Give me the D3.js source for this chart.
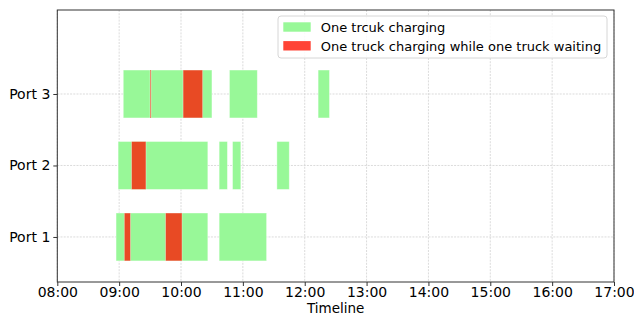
<!DOCTYPE html>
<html>
<head>
<meta charset="utf-8">
<script src="https://cdn.jsdelivr.net/npm/d3@7"></script>
<style>
  html, body { margin: 0; padding: 0; background: #fff; }
  svg { display: block; font-family: "DejaVu Sans", sans-serif; }
</style>
</head>
<body>
<svg id="chart" width="634" height="316"></svg>
<script>
// ---- data ----
const ports = ["Port 1", "Port 2", "Port 3"];
const portValues = [1, 2, 3];
const chargingPort1 = [["08:57", "10:26"], ["10:37", "11:23"]];
const waitingPort1 = [["09:05", "09:11"], ["09:45", "10:01"]];
const chargingPort2 = [["08:59", "10:26"], ["10:37", "10:45"], ["10:50", "10:58"], ["11:33", "11:45"]];
const waitingPort2 = [["09:12", "09:26"]];
const chargingPort3 = [["09:04", "10:30"], ["10:47", "11:14"], ["12:13", "12:24"]];
const waitingPort3 = [["09:30", "09:31"], ["10:02", "10:21"]];
const timeDomain = ["08:00", "17:00"];
const legendLabels = ["One trcuk charging", "One truck charging while one truck waiting"];
const xLabel = "Timeline";

const chargingByPort = [chargingPort1, chargingPort2, chargingPort3];
const waitingByPort = [waitingPort1, waitingPort2, waitingPort3];

// ---- setup ----
const parse = d3.timeParse("%H:%M");
const green = "#98f898";
const redBar = "#e84a24";
const redLegend = "#ff4436";

const svg = d3.select("#chart");
const pL = 57.3, pR = 614, pT = 10, pB = 282;

const x = d3.scaleTime()
  .domain(timeDomain.map(parse))
  .range([pL, pR]);
const y = d3.scaleLinear()
  .domain([0.37, 4.175])
  .range([pB, pT]);
const barH = 0.67;

// grid
const g = svg.append("g");
const hourTicks = x.ticks(d3.timeHour.every(1));
g.selectAll("line.vgrid").data(hourTicks).join("line")
  .attr("class", "vgrid")
  .attr("x1", d => x(d)).attr("x2", d => x(d))
  .attr("y1", pT).attr("y2", pB)
  .attr("stroke", "#d2d2d2").attr("stroke-width", 0.8)
  .attr("stroke-dasharray", "2,1.2");
g.selectAll("line.hgrid").data(portValues).join("line")
  .attr("class", "hgrid")
  .attr("x1", pL).attr("x2", pR)
  .attr("y1", d => y(d)).attr("y2", d => y(d))
  .attr("stroke", "#d2d2d2").attr("stroke-width", 0.8)
  .attr("stroke-dasharray", "2,1.2");

// bars
function drawBars(list, color) {
  list.forEach((intervals, i) => {
    const pv = portValues[i];
    svg.append("g").selectAll("rect").data(intervals).join("rect")
      .attr("x", d => x(parse(d[0])))
      .attr("width", d => x(parse(d[1])) - x(parse(d[0])))
      .attr("y", y(pv + barH / 2))
      .attr("height", y(pv - barH / 2) - y(pv + barH / 2))
      .attr("fill", color)
      .attr("stroke", "#ffffff").attr("stroke-opacity", 0.45).attr("stroke-width", 0.8);
  });
}
drawBars(chargingByPort, green);
drawBars(waitingByPort, redBar);

// axes
const xAxis = d3.axisBottom(x)
  .tickValues(hourTicks)
  .tickFormat(d3.timeFormat("%H:%M"))
  .tickSize(4).tickPadding(1);
const xg = svg.append("g").attr("transform", `translate(0,${pB})`).call(xAxis);
xg.select(".domain").remove();
xg.selectAll("text").attr("font-size", 14).attr("font-family", "DejaVu Sans").attr("fill", "#000");
xg.selectAll("line").attr("stroke", "#333");

const yAxis = d3.axisLeft(y)
  .tickValues(portValues)
  .tickFormat((d, i) => ports[i])
  .tickSize(4).tickPadding(3);
const yg = svg.append("g").attr("transform", `translate(${pL},0)`).call(yAxis);
yg.select(".domain").remove();
yg.selectAll("text").attr("font-size", 14).attr("font-family", "DejaVu Sans").attr("fill", "#000");
yg.selectAll("line").attr("stroke", "#333");

// frame
svg.append("rect")
  .attr("x", pL).attr("y", pT)
  .attr("width", pR - pL).attr("height", pB - pT)
  .attr("fill", "none").attr("stroke", "#333").attr("stroke-width", 1);

// x label
svg.append("text")
  .attr("x", (pL + pR) / 2).attr("y", 313)
  .attr("text-anchor", "middle")
  .attr("font-size", 13.5).attr("fill", "#000")
  .text(xLabel);

// legend
const lg = svg.append("g");
lg.append("rect")
  .attr("x", 278).attr("y", 16).attr("width", 329).attr("height", 42)
  .attr("rx", 3).attr("fill", "#fff").attr("fill-opacity", 0.85)
  .attr("stroke", "#d6d6d6").attr("stroke-width", 1);
const legendColors = [green, redLegend];
legendLabels.forEach((lab, i) => {
  const yy = 22.3 + i * 18.8;
  lg.append("rect").attr("x", 283.3).attr("y", yy)
    .attr("width", 27.4).attr("height", 9.4).attr("fill", legendColors[i]);
  lg.append("text").attr("x", 320.7).attr("y", yy + 9.4)
    .attr("font-size", 13).attr("fill", "#000").text(lab);
});
</script>
</body>
</html>
